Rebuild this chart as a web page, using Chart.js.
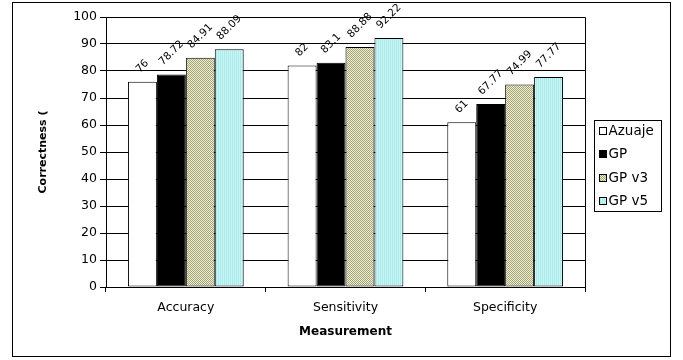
<!DOCTYPE html>
<html><head><meta charset="utf-8">
<script src="https://cdn.jsdelivr.net/npm/chart.js@4/dist/chart.umd.min.js"></script>
<style>html,body{margin:0;padding:0;background:#fff}#wrap{width:683px;height:360px;position:relative}</style>
</head><body><div id="wrap"><canvas id="c" width="683" height="360"></canvas></div>
<script>
const categories = ['Accuracy', 'Sensitivity', 'Specificity'];
const seriesNames = ['Azuaje', 'GP', 'GP v3', 'GP v5'];
const azuaje = [76, 82, 61];
const gp = [78.72, 83.1, 67.77];
const gpV3 = [84.91, 88.88, 74.99];
const gpV5 = [88.09, 92.22, 77.77];
const yTicks = [0, 10, 20, 30, 40, 50, 60, 70, 80, 90, 100];
const yTitle = 'Correctness (';
const xTitle = 'Measurement';

const canvas = document.getElementById('c');
const mainCtx = canvas.getContext('2d');
function makePattern(w, h, draw) {
  const c = document.createElement('canvas'); c.width = w; c.height = h;
  const x = c.getContext('2d'); draw(x);
  return mainCtx.createPattern(c, 'repeat');
}
const checker = makePattern(2, 2, x => {
  x.fillStyle = '#eeeed6'; x.fillRect(0, 0, 2, 2);
  x.fillStyle = '#a3a374'; x.fillRect(0, 0, 1, 1); x.fillRect(1, 1, 1, 1);
});
const stripes = makePattern(2, 2, x => {
  x.fillStyle = '#c6f6f6'; x.fillRect(0, 0, 2, 2);
  x.fillStyle = '#aee9e9'; x.fillRect(0, 0, 1, 2);
});

const fills = ['#ffffff', '#000000', checker, stripes];
const values = [azuaje, gp, gpV3, gpV5];

const tickFont = { family: 'DejaVu Sans', size: 12.5 };

const outerBorder = {
  id: 'outerBorder',
  afterDraw(chart) {
    const ctx = chart.ctx, a = chart.chartArea;
    ctx.save();
    ctx.strokeStyle = '#000'; ctx.lineWidth = 1;
    ctx.beginPath();
    ctx.moveTo(Math.round(a.left) + 0.5, Math.round(a.top) + 0.5);
    ctx.lineTo(Math.round(a.right) + 0.5, Math.round(a.top) + 0.5);
    ctx.lineTo(Math.round(a.right) + 0.5, Math.round(a.bottom) + 0.5);
    ctx.stroke();
    ctx.strokeRect(12.5, 2.5, 658, 354);
    ctx.restore();
  }
};

const valueLabels = {
  id: 'valueLabels',
  afterDatasetsDraw(chart) {
    const ctx = chart.ctx;
    ctx.save();
    ctx.font = '10.5px "DejaVu Sans", sans-serif';
    ctx.fillStyle = '#000';
    ctx.textAlign = 'center';
    ctx.textBaseline = 'middle';
    chart.data.datasets.forEach((ds, di) => {
      const meta = chart.getDatasetMeta(di);
      meta.data.forEach((bar, i) => {
        const txt = String(ds.data[i]);
        const w = ctx.measureText(txt).width;
        const box = (w + 8) * Math.SQRT1_2;
        const cx = bar.x, cy = bar.y - 8 - box / 2;
        ctx.save();
        ctx.translate(cx, cy);
        ctx.rotate(-Math.PI / 4);
        ctx.fillText(txt, 0, 0);
        ctx.restore();
      });
    });
    ctx.restore();
  }
};

const boxLegend = {
  id: 'boxLegend',
  afterDraw(chart) {
    const ctx = chart.ctx;
    ctx.save();
    ctx.strokeStyle = '#000'; ctx.lineWidth = 1;
    ctx.fillStyle = '#fff';
    ctx.fillRect(594.5, 120.5, 67, 91);
    ctx.strokeRect(594.5, 120.5, 67, 91);
    ctx.font = '13.5px "DejaVu Sans", sans-serif';
    ctx.textBaseline = 'middle';
    ctx.textAlign = 'left';
    chart.data.datasets.forEach((ds, i) => {
      const y = Math.round(131 + i * 23.3);
      ctx.fillStyle = ds.backgroundColor;
      ctx.fillRect(600, y - 3, 6, 6);
      ctx.strokeStyle = '#000';
      ctx.strokeRect(599.5, y - 3.5, 7, 7);
      ctx.fillStyle = '#000';
      ctx.fillText(ds.label, 608.5, y + 0.5);
    });
    ctx.restore();
  }
};

new Chart(canvas, {
  type: 'bar',
  data: {
    labels: categories,
    datasets: seriesNames.map((name, i) => ({
      label: name,
      data: values[i],
      backgroundColor: fills[i],
      borderColor: '#000',
      borderWidth: 1,
      borderSkipped: false,
      categoryPercentage: 0.725,
      barPercentage: 1
    }))
  },
  options: {
    responsive: false,
    animation: false,
    devicePixelRatio: 1,
    layout: { padding: { top: 17, right: 98, bottom: 0, left: 0 } },
    plugins: { legend: { display: false }, tooltip: { enabled: false } },
    scales: {
      x: {
        offset: true,
        afterFit: s => { s.height = 73; },
        grid: { offset: true, drawOnChartArea: false, tickLength: 5, color: '#000' },
        border: { color: '#000', width: 1 },
        ticks: { font: tickFont, color: '#000', padding: 8, maxRotation: 0 },
        title: { display: true, text: xTitle, color: '#000', font: { family: 'DejaVu Sans', size: 12, weight: 'bold' }, padding: 20.8 }
      },
      y: {
        min: 0, max: 100,
        afterFit: s => { s.width = 106; },
        afterBuildTicks: s => { s.ticks = yTicks.map(v => ({ value: v })); },
        grid: { color: '#000', lineWidth: 1, tickLength: 6 },
        border: { color: '#000', width: 1 },
        ticks: { font: tickFont, color: '#000', padding: 3 },
        title: { display: true, text: yTitle, color: '#000', font: { family: 'DejaVu Sans', size: 11, weight: 'bold' }, padding: 36.4 }
      }
    }
  },
  plugins: [valueLabels, boxLegend, outerBorder]
});
</script>
</body></html>
